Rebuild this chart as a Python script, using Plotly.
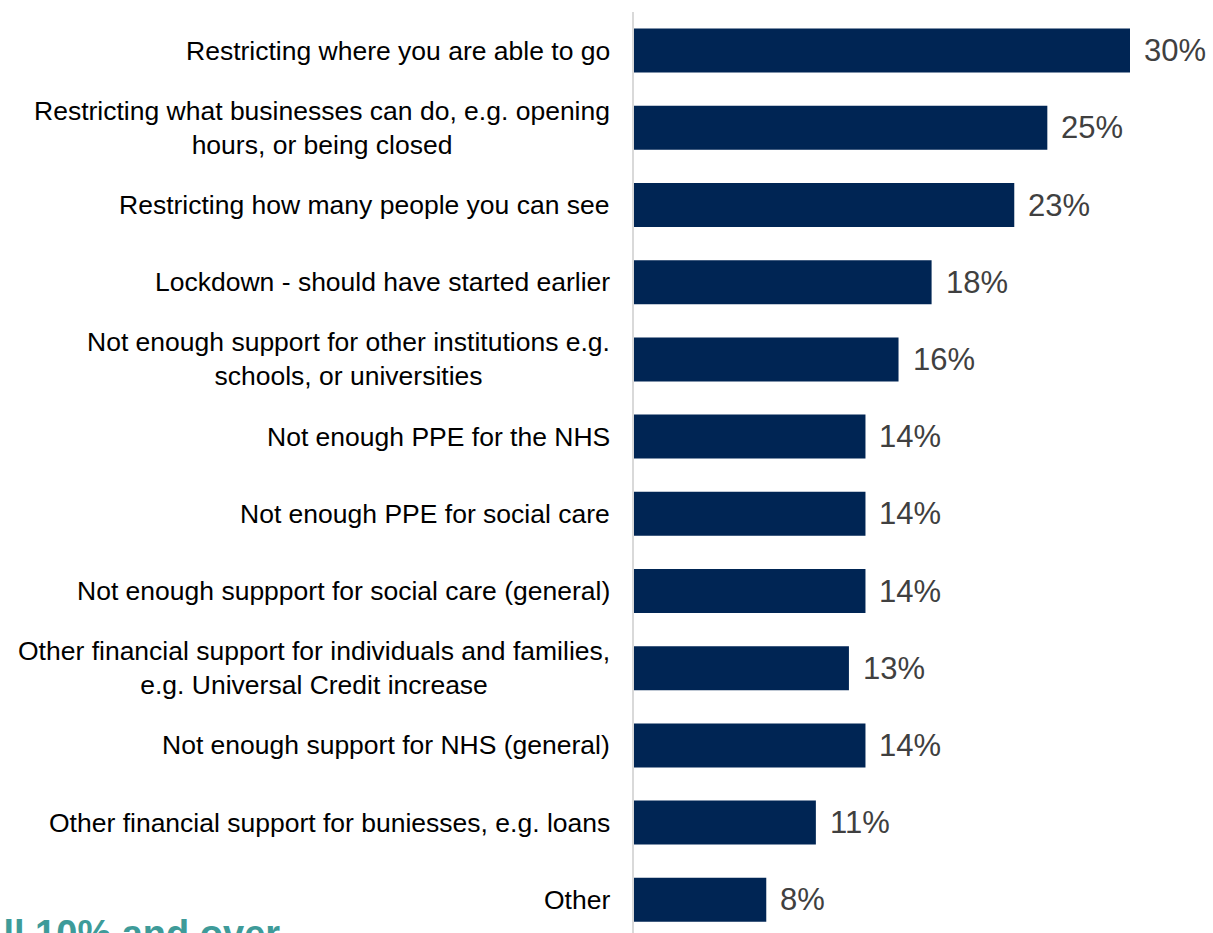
import plotly.graph_objects as go

categories = [
    "Restricting where you are able to go",
    "Restricting what businesses can do, e.g. opening<br>hours, or being closed",
    "Restricting how many people you can see",
    "Lockdown - should have started earlier",
    "Not enough support for other institutions e.g.<br>schools, or universities",
    "Not enough PPE for the NHS",
    "Not enough PPE for social care",
    "Not enough suppport for social care (general)",
    "Other financial support for individuals and families,<br>e.g. Universal Credit increase",
    "Not enough support for NHS (general)",
    "Other financial support for buniesses, e.g. loans",
    "Other",
]
values = [30, 25, 23, 18, 16, 14, 14, 14, 13, 14, 11, 8]
value_labels = [f"{v}%" for v in values]
footer_text = "All 10% and over"

W, H = 1213, 933
ML, MR, MT, MB = 634, 0, 12, 0
pw = W - ML - MR
ph = H - MT - MB

fig = go.Figure()
fig.add_trace(go.Bar(
    y=categories, x=values, orientation="h",
    marker=dict(color="#002554", line=dict(width=0)),
    width=0.57, hoverinfo="skip",
))

for c in categories:
    fig.add_annotation(
        x=0, y=c, xref="paper", yref="y", text=c, showarrow=False,
        xanchor="right", yanchor="middle", align="center", xshift=-22,
        font=dict(family="Liberation Sans, Arial", size=26.5, color="#000000"),
    )

for c, v, t in zip(categories, values, value_labels):
    fig.add_annotation(
        x=v, y=c, xref="x", yref="y", text=t, showarrow=False,
        xanchor="left", yanchor="middle", xshift=12,
        font=dict(family="Liberation Sans, Arial", size=31, color="#404040"),
    )

fig.add_annotation(
    x=(-26 - ML) / pw, y=(H - 911) / ph, xref="paper", yref="paper",
    text=f"<b>{footer_text}</b>", showarrow=False,
    xanchor="left", yanchor="top",
    font=dict(family="Liberation Sans, Arial", size=38, color="#3e9b99"),
)

fig.update_layout(
    width=W, height=H,
    margin=dict(l=ML, r=MR, t=MT, b=MB),
    paper_bgcolor="white", plot_bgcolor="white",
    showlegend=False,
    xaxis=dict(range=[0, pw / (496 / 30)], visible=False, fixedrange=True),
    yaxis=dict(
        type="category", range=[11.43, -0.5],
        showline=True, linecolor="#d9d9d9", linewidth=2,
        showgrid=False, ticks="", showticklabels=False,
    ),
)

fig.write_html("out.html")
